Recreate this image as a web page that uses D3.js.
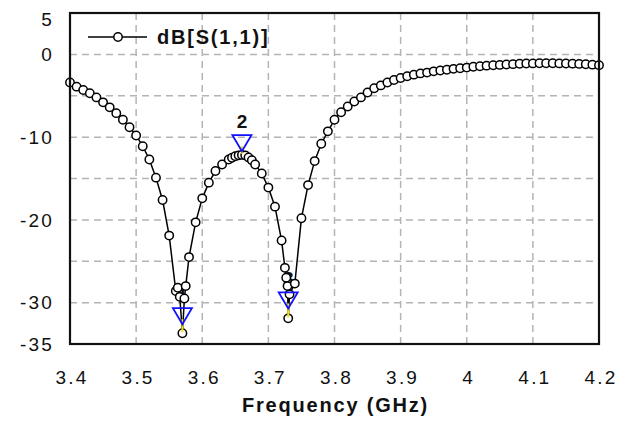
<!DOCTYPE html>
<html>
<head>
<meta charset="utf-8">
<script src="https://cdn.jsdelivr.net/npm/d3@7"></script>
<style>
  html, body { margin: 0; padding: 0; background: #fff; }
  svg { display: block; font-family: "Liberation Sans", Arial, sans-serif; }
</style>
</head>
<body>
<svg id="chart" width="628" height="421"></svg>
<script>
// S11 sweep (GHz, dB) — base 10 MHz grid plus extra points near the dips/peak
const freqGHz = [
  3.40, 3.41, 3.42, 3.43, 3.44, 3.45, 3.46, 3.47, 3.48, 3.49,
  3.50, 3.51, 3.52, 3.53, 3.54, 3.55, 3.56, 3.563, 3.566, 3.57,
  3.573, 3.575, 3.58, 3.59, 3.60, 3.61, 3.62, 3.63, 3.64, 3.645,
  3.65, 3.655, 3.66, 3.665, 3.67, 3.675, 3.68, 3.69, 3.70, 3.71,
  3.72, 3.725, 3.727, 3.729, 3.73, 3.732, 3.74, 3.75, 3.76, 3.77,
  3.78, 3.79, 3.80, 3.81, 3.82, 3.83, 3.84, 3.85, 3.86, 3.87,
  3.88, 3.89, 3.90, 3.91, 3.92, 3.93, 3.94, 3.95, 3.96, 3.97,
  3.98, 3.99, 4.00, 4.01, 4.02, 4.03, 4.04, 4.05, 4.06, 4.07,
  4.08, 4.09, 4.10, 4.11, 4.12, 4.13, 4.14, 4.15, 4.16, 4.17,
  4.18, 4.19, 4.20
];
const s11dB = [
  -3.4, -3.9, -4.3, -4.7, -5.2, -5.8, -6.4, -7.1, -7.9, -8.8,
  -9.8, -11.1, -12.7, -14.9, -17.6, -21.9, -28.6, -28.2, -29.3, -33.7,
  -29.5, -28.0, -24.5, -20.3, -17.4, -15.5, -14.1, -13.3, -12.7, -12.5,
  -12.3, -12.2, -12.15, -12.2, -12.45, -12.8, -13.3, -14.4, -16.1, -18.4,
  -22.5, -25.8, -27.0, -28.0, -31.9, -29.0, -27.7, -19.8, -15.8, -12.9,
  -10.8, -9.3, -7.9, -7.0, -6.3, -5.7, -5.2, -4.6, -4.1, -3.75,
  -3.4, -3.1, -2.85, -2.65, -2.45, -2.3, -2.2, -2.05, -1.95, -1.85,
  -1.75, -1.68, -1.6, -1.5, -1.43, -1.36, -1.31, -1.27, -1.22, -1.18,
  -1.14, -1.11, -1.09, -1.08, -1.08, -1.08, -1.09, -1.1, -1.12, -1.15,
  -1.19, -1.24, -1.3
];

// Markers: position of the triangle tip and the curve point it refers to
const markerLabels = ["1", "2", "3"];
const markerFreq   = [3.57, 3.66, 3.73];
const markerTipDb  = [-32.6, -11.7, -30.7];
const markerDb     = [-33.7, -12.15, -31.9];

const xTicks = [3.4, 3.5, 3.6, 3.7, 3.8, 3.9, 4.0, 4.1, 4.2];
const yTicks = [5, 0, -10, -20, -30, -35];
const yGrid  = [0, -5, -10, -15, -20, -25, -30];
const xGrid  = [3.5, 3.6, 3.7, 3.8, 3.9, 4.0, 4.1];

const W = 628, H = 421;
const m = { top: 13, right: 29, bottom: 77, left: 70 };

const svg = d3.select("#chart");
const x = d3.scaleLinear().domain([3.4, 4.2]).range([m.left, W - m.right]);
const y = d3.scaleLinear().domain([-35, 5]).range([H - m.bottom, m.top]);

// ── Grid ──────────────────────────────────────────────────────
const grid = svg.append("g")
  .attr("stroke", "#b4b4b4").attr("stroke-width", 1.5).attr("stroke-dasharray", "7,5");
grid.selectAll(".gx").data(xGrid).join("line")
  .attr("x1", d => x(d)).attr("x2", d => x(d))
  .attr("y1", y(5)).attr("y2", y(-35));
grid.selectAll(".gy").data(yGrid).join("line")
  .attr("x1", x(3.4)).attr("x2", x(4.2))
  .attr("y1", d => y(d)).attr("y2", d => y(d));

// ── Tick labels ───────────────────────────────────────────────
svg.append("g").selectAll("text").data(yTicks).join("text")
  .attr("x", m.left - 16)
  .attr("y", d => Math.max(y(d), m.top + 6))
  .attr("dy", "0.36em")
  .attr("text-anchor", "end")
  .attr("font-size", 19).attr("letter-spacing", 2.2).attr("fill", "#111")
  .text(d => d);

svg.append("g").selectAll("text").data(xTicks).join("text")
  .attr("x", d => x(d) + 2)
  .attr("y", 377)
  .attr("dy", "0.36em")
  .attr("text-anchor", "middle")
  .attr("font-size", 19).attr("letter-spacing", 2.2).attr("fill", "#111")
  .text(d => d);

svg.append("text")
  .attr("x", (x(3.4) + x(4.2)) / 2 + 1).attr("y", 405).attr("dy", "0.36em")
  .attr("text-anchor", "middle")
  .attr("font-size", 20).attr("font-weight", "bold").attr("letter-spacing", 1.8)
  .attr("fill", "#111")
  .text("Frequency (GHz)");

// ── Marker labels (drawn under the curve, as in the source plot) ─
svg.append("g").selectAll("text").data(markerLabels).join("text")
  .attr("x", (d, i) => x(markerFreq[i]))
  .attr("y", (d, i) => y(markerTipDb[i]) - 23)
  .attr("text-anchor", "middle")
  .attr("font-size", 19).attr("font-weight", "bold").attr("fill", "#111")
  .text(d => d);

// ── Curve ─────────────────────────────────────────────────────
const pts = freqGHz.map((f, i) => [f, s11dB[i]]);
const line = d3.line().x(d => x(d[0])).y(d => y(d[1]));

svg.append("path")
  .datum(pts)
  .attr("d", line)
  .attr("fill", "none").attr("stroke", "#000").attr("stroke-width", 1.5);

svg.append("g").selectAll("circle").data(pts).join("circle")
  .attr("cx", d => x(d[0])).attr("cy", d => y(d[1])).attr("r", 4.2)
  .attr("fill", "#fff").attr("stroke", "#000").attr("stroke-width", 1.5);

// ── Marker triangles + yellow leader to the data point ────────
const mk = svg.append("g");
mk.selectAll("line").data(markerFreq).join("line")
  .attr("x1", d => x(d)).attr("x2", d => x(d))
  .attr("y1", (d, i) => y(markerTipDb[i]) - 5).attr("y2", (d, i) => y(markerDb[i]) - 1)
  .attr("stroke", "#f0e000").attr("stroke-width", 2);
mk.selectAll("path").data(markerFreq).join("path")
  .attr("d", (d, i) => {
    const tx = x(d), ty = y(markerTipDb[i]);
    return `M${tx - 9.5},${ty - 16}L${tx + 9.5},${ty - 16}L${tx},${ty}Z`;
  })
  .attr("fill", "none").attr("stroke", "#1010ff").attr("stroke-width", 1.8);

// ── Frame ─────────────────────────────────────────────────────
svg.append("rect")
  .attr("x", x(3.4)).attr("y", y(5))
  .attr("width", x(4.2) - x(3.4)).attr("height", y(-35) - y(5))
  .attr("fill", "none").attr("stroke", "#111").attr("stroke-width", 2.2);

// ── Legend ────────────────────────────────────────────────────
const lg = svg.append("g");
lg.append("line")
  .attr("x1", 88).attr("x2", 147).attr("y1", 37).attr("y2", 37)
  .attr("stroke", "#000").attr("stroke-width", 1.5);
lg.append("circle")
  .attr("cx", 118).attr("cy", 37).attr("r", 4.2)
  .attr("fill", "#fff").attr("stroke", "#000").attr("stroke-width", 1.5);
lg.append("text")
  .attr("x", 157).attr("y", 37).attr("dy", "0.36em")
  .attr("font-size", 20).attr("font-weight", "bold").attr("letter-spacing", 1.8)
  .attr("fill", "#111")
  .text("dB[S(1,1)]");
</script>
</body>
</html>
